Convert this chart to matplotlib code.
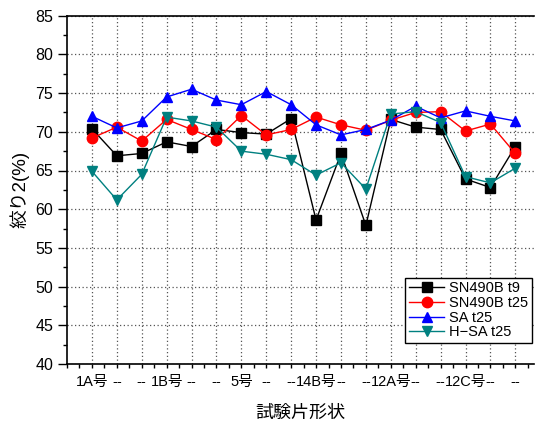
import matplotlib
matplotlib.use("Agg")
import matplotlib.pyplot as plt
import numpy as np
from matplotlib.ticker import MultipleLocator, FixedLocator

plt.rcParams['font.family'] = ['Liberation Sans', 'Noto Sans CJK JP', 'DejaVu Sans']

categories = ["1A号", "--", "--", "1B号", "--", "--", "5号", "--", "--",
              "14B号", "--", "--", "12A号", "--", "--", "12C号", "--", "--"]

sn490b_t9 = [70.4, 66.9, 67.2, 68.7, 68.1, 70.3, 69.9, 69.7, 71.7,
             58.6, 67.2, 57.9, 71.6, 70.6, 70.3, 63.9, 62.8, 68.1]
sn490b_t25 = [69.2, 70.6, 68.8, 71.6, 70.3, 69.0, 72.1, 69.6, 70.3,
              71.9, 70.9, 70.2, 71.5, 72.5, 72.6, 70.1, 71.0, 67.2]
sa_t25 = [72.0, 70.5, 71.4, 74.5, 75.5, 74.1, 73.5, 75.2, 73.5,
          70.9, 69.6, 70.3, 71.5, 73.3, 71.8, 72.7, 72.0, 71.4]
hsa_t25 = [64.9, 61.2, 64.5, 71.9, 71.4, 70.6, 67.5, 67.1, 66.4,
           64.4, 66.0, 62.6, 72.3, 72.6, 71.2, 64.2, 63.4, 65.3]

series = [
    ("SN490B t9", sn490b_t9, "black", "s"),
    ("SN490B t25", sn490b_t25, "#ff0000", "o"),
    ("SA t25", sa_t25, "#0000ff", "^"),
    ("H\u2212SA t25", hsa_t25, "#008080", "v"),
]

fig = plt.figure(figsize=(5.4, 4.25), dpi=100)
ax = fig.add_axes([67 / 540, 1 - 364 / 425, (534 - 67) / 540, (364 - 15.7) / 425])

x = np.arange(len(categories))
handles = []
for label, vals, color, marker in series:
    h, = ax.plot(x, vals, color=color, marker=marker, markersize=7.5,
                 linewidth=1.0, label=label, zorder=3)
    handles.append(h)

ax.set_xlim(-1, 17.75)
ax.set_ylim(40, 85)

ax.xaxis.set_major_locator(FixedLocator(x))
ax.set_xticklabels(categories, fontsize=10.5)
ax.xaxis.set_minor_locator(FixedLocator(np.arange(-1, 18, 0.5)))
ax.yaxis.set_major_locator(MultipleLocator(5))
ax.yaxis.set_minor_locator(MultipleLocator(2.5))
ax.tick_params(axis='y', which='major', direction='out', length=6.5, width=1, labelsize=11.5)
ax.tick_params(axis='y', which='minor', direction='out', length=3, width=1)
ax.tick_params(axis='x', which='both', direction='out', length=3, width=1, pad=5)

ax.grid(True, which='major', color='#555555', linestyle=(0, (1, 2)), linewidth=0.9)

ax.spines['right'].set_visible(False)
for s in ['left', 'top', 'bottom']:
    ax.spines[s].set_linewidth(1.2)

ax.set_xlabel("試験片形状", fontsize=13, labelpad=11)
ax.set_ylabel("絞り2(%)", fontsize=13.5, labelpad=4)

leg = ax.legend(handles=handles, loc='lower right',
                bbox_to_anchor=(532 / 540, 1 - 343 / 425),
                bbox_transform=fig.transFigure,
                fontsize=10.5, frameon=True, fancybox=False, shadow=False,
                handlelength=2.4, handletextpad=0.35, labelspacing=0.05,
                borderpad=0.25, borderaxespad=0, framealpha=1)
leg.get_frame().set_edgecolor('black')
leg.get_frame().set_linewidth(1.0)

fig.savefig("out.png", dpi=100)
